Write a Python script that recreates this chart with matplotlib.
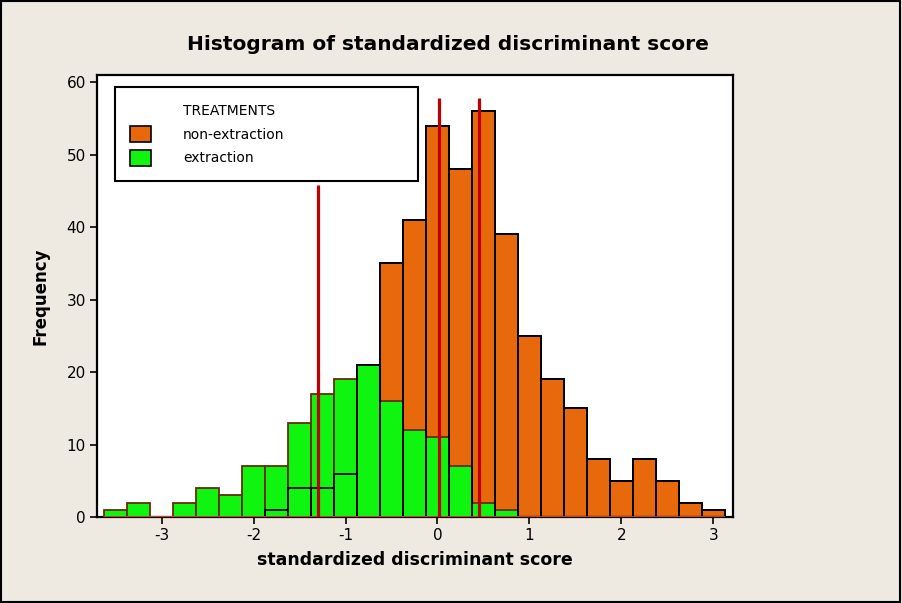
import numpy as np
import matplotlib
matplotlib.use("Agg")
import matplotlib.pyplot as plt
from matplotlib.patches import Patch, Rectangle

plt.rcParams["axes.unicode_minus"] = False

# bin centres (width 0.25) and counts per treatment
bin_centers = [-3.5, -3.25, -3.0, -2.75, -2.5, -2.25, -2.0, -1.75, -1.5,
               -1.25, -1.0, -0.75, -0.5, -0.25, 0.0, 0.25, 0.5, 0.75,
               1.0, 1.25, 1.5, 1.75, 2.0, 2.25, 2.5, 2.75, 3.0]
bin_width = 0.25

non_extraction = [0, 0, 0, 0, 0, 0, 0, 1, 4,
                  4, 6, 21, 35, 41, 54, 48, 56, 39,
                  25, 19, 15, 8, 5, 8, 5, 2, 1]
extraction = [1, 2, 0, 2, 4, 3, 7, 7, 13,
              17, 19, 21, 16, 12, 11, 7, 2, 1,
              0, 0, 0, 0, 0, 0, 0, 0, 0]

# vertical reference lines (x position, top of line)
ref_x = [-1.30, 0.02, 0.45]
ref_top = [45.8, 57.8, 57.8]

x_ticks = [-3, -2, -1, 0, 1, 2, 3]
y_ticks = [0, 10, 20, 30, 40, 50, 60]

ORANGE = "#E8680C"
GREEN = "#10F510"
GREEN_EDGE = "#6A2A0A"
RED = "#C00000"
BG = "#EEEAE1"

fig = plt.figure(figsize=(9.02, 6.03), dpi=100, facecolor=BG)
ax = fig.add_axes([0.1075, 0.1426, 0.7051, 0.7330])
ax.set_facecolor("white")

x = np.array(bin_centers)
h_o = np.array(non_extraction)
h_g = np.array(extraction)

# orange fill
ax.bar(x, h_o, width=bin_width, color=ORANGE, edgecolor="black",
       linewidth=1.3, zorder=2)
# green overlaid
ax.bar(x, h_g, width=bin_width, color=GREEN, edgecolor=GREEN_EDGE,
       linewidth=1.3, zorder=3)
# orange outlines on top
keep = h_o > 0
ax.bar(x[keep], h_o[keep], width=bin_width, facecolor="none",
       edgecolor="black", linewidth=1.3, zorder=4)

# reddish baseline under the bars
ax.plot([x[0] - bin_width / 2, x[-1] + bin_width / 2], [0, 0],
        color="#C8401A", linewidth=1.5, zorder=4, solid_capstyle="butt")

ax.vlines(ref_x, 0, ref_top, colors=RED, linewidth=2.3, zorder=5)

ax.set_xlim(-3.705, 3.215)
ax.set_ylim(0, 61)
ax.set_xticks(x_ticks)
ax.set_yticks(y_ticks)
ax.tick_params(direction="out", length=5, width=1.2, labelsize=11,
               colors="black", pad=3)
for s in ax.spines.values():
    s.set_linewidth(1.6)
    s.set_color("black")

ax.set_xlabel("standardized discriminant score", fontsize=12.5,
              fontweight="bold", labelpad=6)
ax.set_ylabel("Frequency", fontsize=12, fontweight="bold", labelpad=12)
fig.text(0.497, 0.927, "Histogram of standardized discriminant score",
         ha="center", va="center", fontsize=14.5, fontweight="bold")

handles = [Patch(facecolor="none", edgecolor="none"),
           Patch(facecolor=ORANGE, edgecolor="black", linewidth=1.2),
           Patch(facecolor=GREEN, edgecolor="black", linewidth=1.2)]
labels = ["TREATMENTS", "non-extraction", "extraction"]
leg = ax.legend(handles, labels, loc="upper left",
                bbox_to_anchor=(0.0283, 0.758, 0.4764, 0.215),
                mode="expand", fontsize=10, handlelength=1.5,
                handleheight=1.4, handletextpad=2.3, labelspacing=0.55,
                borderpad=1.1, borderaxespad=0.0, fancybox=False,
                framealpha=1.0, edgecolor="black")
leg.get_frame().set_linewidth(1.5)
leg.set_zorder(6)

# outer border of the picture
fig.patches.append(Rectangle((0.001, 0.001), 0.997, 0.997,
                             transform=fig.transFigure, fill=False,
                             edgecolor="black", linewidth=1.5))

fig.savefig("out.png", dpi=100, facecolor=BG)
